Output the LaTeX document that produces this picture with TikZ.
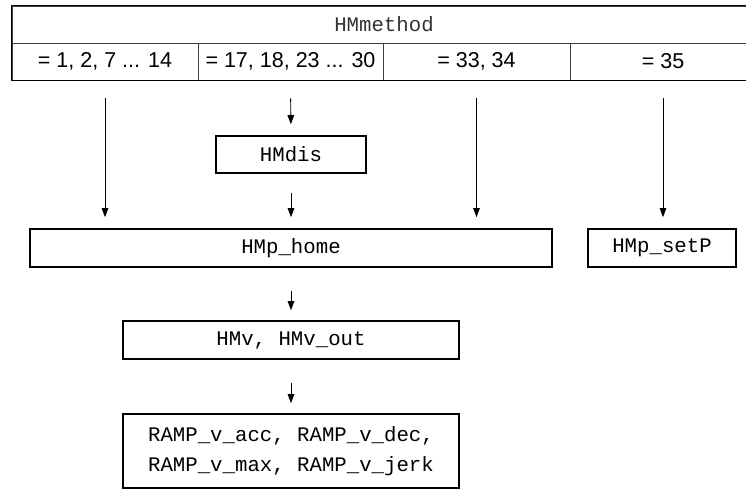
\documentclass[tikz,border=0pt]{standalone}
\usepackage{fontspec}
\setmainfont{Liberation Sans}
\setmonofont{Liberation Mono}
\usetikzlibrary{arrows.meta}

\begin{document}
\begin{tikzpicture}[x=1pt, y=-1pt,
        every node/.style={font=\fontsize{21.5}{30}\selectfont, inner sep=0pt},
        cell/.style={draw=black!75, line width=0.8pt, minimum height=37pt},
        parbox/.style={draw, line width=1.6pt, minimum height=38pt,
            font=\fontsize{20.7}{30}\selectfont\ttfamily, align=center},
        flow/.style={-{Triangle[length=9pt,width=6.5pt]}, line width=0.9pt}]
      \useasboundingbox (0,0) rectangle (746,490);
      % parameter table
      \node[cell, minimum width=744pt, font=\fontsize{20.7}{30}\selectfont\ttfamily,
            text=black!80] (method) at (384,24.5) {HMmethod};
      \node[cell, minimum width=186pt] (c1) at (105,61.5) {= 1, 2, 7 ... 14};
      \node[cell, minimum width=185pt] (c2) at (290.5,61.5) {= 17, 18, 23 ... 30};
      \node[cell, minimum width=187pt] (c3) at (476.5,61.5) {= 33, 34};
      \node[cell, minimum width=186pt] (c4) at (663,61.5) {= 35};
      \draw[line width=1.6pt] (method.north west) rectangle (c4.south east);
      % parameter boxes
      \node[parbox, minimum width=150pt, minimum height=37pt] (dis) at (291,154.5) {HMdis};
      \node[parbox, minimum width=522pt] (home) at (291,248) {HMp\_home};
      \node[parbox, minimum width=148pt] (setp) at (662,248) {HMp\_setP};
      \node[parbox, minimum width=336pt] (vel) at (291,340) {HMv, HMv\_out};
      \node[parbox, minimum width=336pt, minimum height=74pt] (ramp) at (291,451)
            {RAMP\_v\_acc, RAMP\_v\_dec,\\RAMP\_v\_max, RAMP\_v\_jerk};
      % arrows
      \draw[flow, shorten <=18pt, shorten >=11pt] (c1.south) -- (c1.south |- home.north);
      \draw[flow, shorten <=18pt, shorten >=11pt] (c2.south) -- (dis.north);
      \draw[flow, shorten <=19pt, shorten >=11pt] (dis.south) -- (home.north);
      \draw[flow, shorten <=18pt, shorten >=11pt] (c3.south) -- (c3.south |- home.north);
      \draw[flow, shorten <=18pt, shorten >=11pt] (c4.south) -- (c4.south |- setp.north);
      \draw[flow, shorten <=23pt, shorten >=10pt] (home.south) -- (vel.north);
      \draw[flow, shorten <=23pt, shorten >=10pt] (vel.south) -- (ramp.north);
    \end{tikzpicture}
\end{document}
